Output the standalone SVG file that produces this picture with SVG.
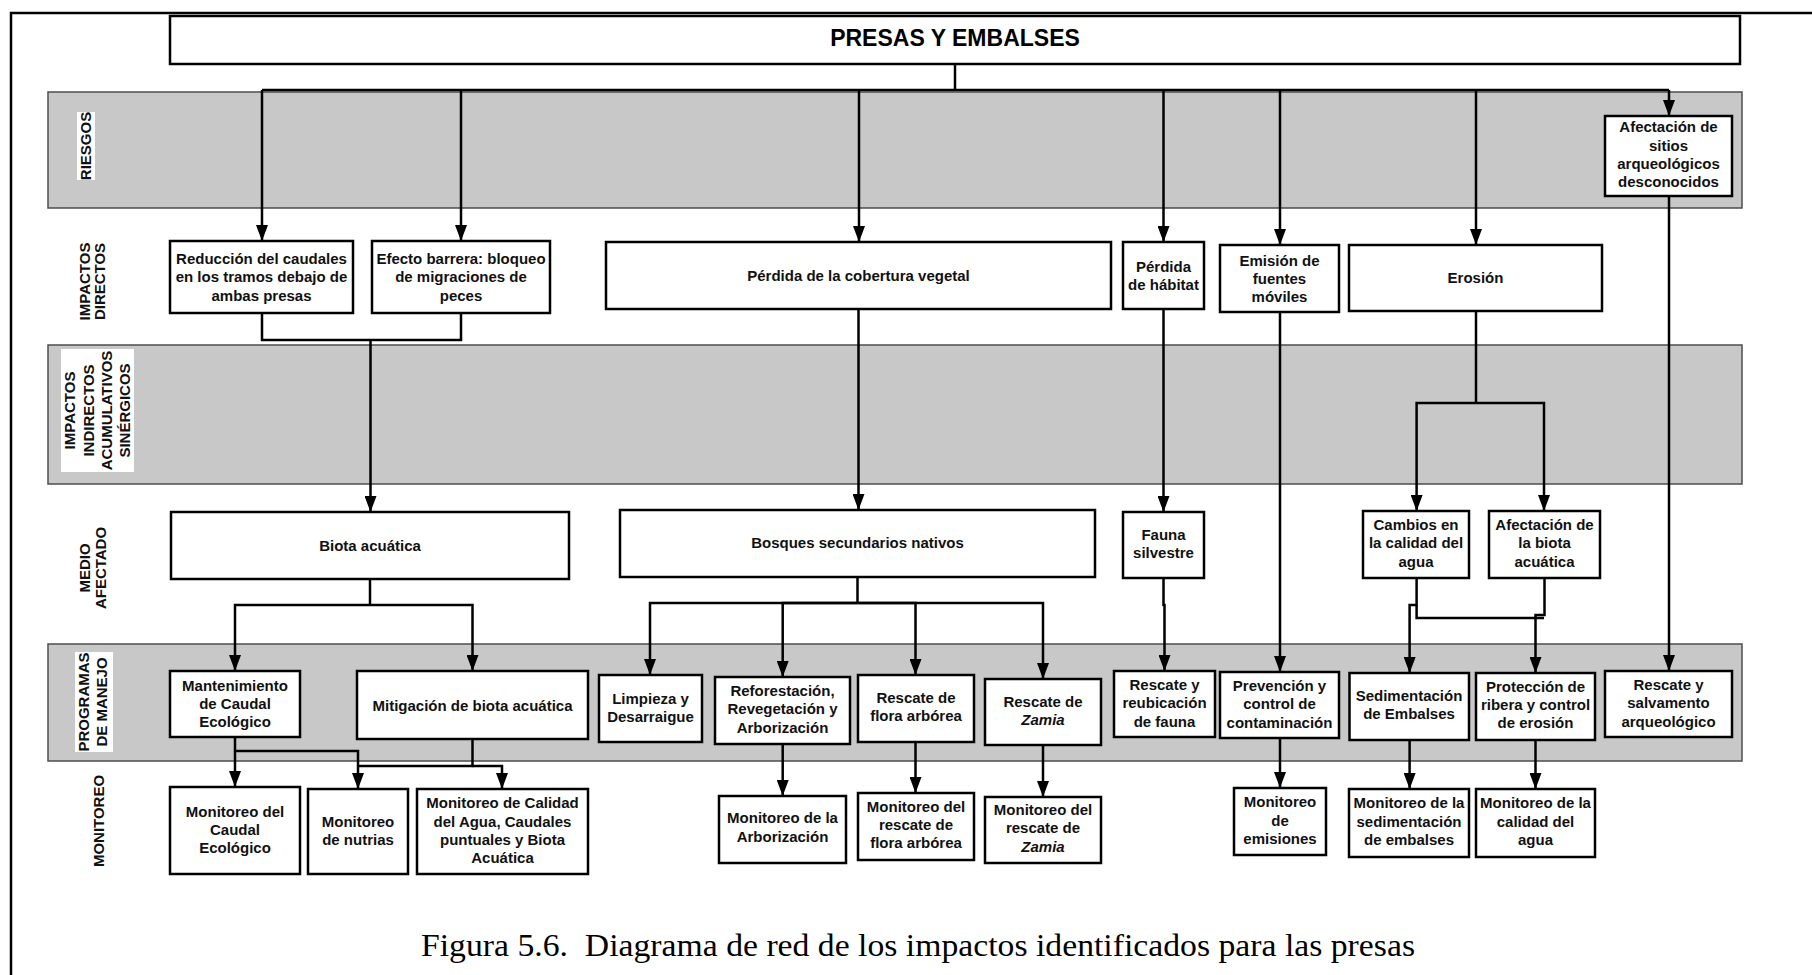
<svg xmlns="http://www.w3.org/2000/svg" width="1812" height="975" viewBox="0 0 1812 975">
<style>
.bg{fill:#fff}
.band{fill:#c8c8c8;stroke:#4d4d4d;stroke-width:1.5}
.box{fill:#fff;stroke:#000;stroke-width:2.5}
.lblbg{fill:#fff}
.t{font-family:"Liberation Sans",Arial,sans-serif;font-weight:bold;font-size:15px;fill:#111;text-anchor:middle}
.title{font-family:"Liberation Sans",Arial,sans-serif;font-weight:bold;font-size:23px;fill:#000;text-anchor:middle}
.cap{font-family:"Liberation Serif","Times New Roman",serif;font-size:31px;fill:#000;text-anchor:middle}
.conn{fill:none;stroke:#000;stroke-width:2.5}
.arr{marker-end:url(#ah)}
.frame{fill:none;stroke:#000;stroke-width:2.5}
</style>
<defs>
<marker id="ah" markerUnits="userSpaceOnUse" markerWidth="16" markerHeight="12" refX="16" refY="6" orient="auto">
<path d="M0,0 L16,6 L0,12 Z" fill="#000"/>
</marker>
</defs>
<rect class="bg" x="0" y="0" width="1812" height="975"/>
<path class="frame" d="M11,975 V13 H1812"/>

<g id="bands">
<rect class="band" x="48" y="92" width="1694" height="116"/>
<rect class="band" x="48" y="345" width="1694" height="139"/>
<rect class="band" x="48" y="644" width="1694" height="117"/>
</g>

<g id="lane-labels">
<rect class="lblbg" x="77" y="112" width="18" height="68"/>
<text class="t" transform="translate(0,146) rotate(-90)" x="0" y="91.4">RIESGOS</text>
<text class="t" transform="translate(0,281.5) rotate(-90)"><tspan x="0" y="89.9">IMPACTOS</tspan><tspan x="0" y="105.4">DIRECTOS</tspan></text>
<rect class="lblbg" x="61" y="349" width="73" height="123"/>
<text class="t" transform="translate(0,410.5) rotate(-90)"><tspan x="0" y="75.4">IMPACTOS</tspan><tspan x="0" y="94.4">INDIRECTOS</tspan><tspan x="0" y="112.4">ACUMULATIVOS</tspan><tspan x="0" y="130.4">SINÉRGICOS</tspan></text>
<text class="t" transform="translate(0,568) rotate(-90)"><tspan x="0" y="90.4">MEDIO</tspan><tspan x="0" y="106.4">AFECTADO</tspan></text>
<rect class="lblbg" x="75" y="652" width="38" height="100"/>
<text class="t" transform="translate(0,702) rotate(-90)"><tspan x="0" y="89.4">PROGRAMAS</tspan><tspan x="0" y="107.4">DE MANEJO</tspan></text>
<text class="t" transform="translate(0,821) rotate(-90)" x="0" y="103.9">MONITOREO</text>
</g>

<g id="connectors">
<path class="conn" d="M955,64 V90"/>
<path class="conn" d="M262,90 H1669"/>
<path class="conn arr" d="M262,90 V241"/>
<path class="conn arr" d="M461,90 V241"/>
<path class="conn arr" d="M859,90 V242"/>
<path class="conn arr" d="M1163.5,90 V242"/>
<path class="conn arr" d="M1280,90 V245"/>
<path class="conn arr" d="M1476,90 V245"/>
<path class="conn arr" d="M1669,90 V116"/>
<path class="conn" d="M262,313 V340 H461 V313"/>
<path class="conn arr" d="M370.5,340 V512"/>
<path class="conn arr" d="M858.5,309 V510"/>
<path class="conn arr" d="M1163.5,309 V512"/>
<path class="conn arr" d="M1280,312 V672"/>
<path class="conn" d="M1476,311 V403"/>
<path class="conn arr" d="M1476,403 H1416.6 V511"/>
<path class="conn arr" d="M1476,403 H1544 V511"/>
<path class="conn arr" d="M1669,196 V671"/>
<path class="conn" d="M370,579 V605"/>
<path class="conn arr" d="M370,605 H235 V671"/>
<path class="conn arr" d="M370,605 H472.5 V671"/>
<path class="conn" d="M857.5,577 V603"/>
<path class="conn arr" d="M857.5,603 H650 V675"/>
<path class="conn arr" d="M857.5,603 H782.7 V677"/>
<path class="conn arr" d="M857.5,603 H915.5 V675"/>
<path class="conn arr" d="M857.5,603 H1043 V679"/>
<path class="conn arr" d="M1163.5,578 V605 H1164.5 V671"/>
<path class="conn arr" d="M1416.6,578 V605 H1409.6 V673"/>
<path class="conn" d="M1416.6,605 V618 H1544"/>
<path class="conn arr" d="M1544.5,578 V615 H1535.5 V673"/>
<path class="conn arr" d="M235,737 V787"/>
<path class="conn arr" d="M235,751 H358 V789"/>
<path class="conn" d="M472.5,739 V766 H358"/>
<path class="conn arr" d="M472.5,766 H502 V789"/>
<path class="conn arr" d="M782.7,744 V796"/>
<path class="conn arr" d="M915.5,742 V793"/>
<path class="conn arr" d="M1043,745 V797"/>
<path class="conn arr" d="M1280,738 V788"/>
<path class="conn arr" d="M1409.6,740 V789"/>
<path class="conn arr" d="M1535.5,740 V789"/>
</g>

<g id="n-title"><rect class="box" x="170" y="16" width="1570" height="48"/><text class="title" x="955" y="46">PRESAS Y EMBALSES</text></g>

<g id="n-reduccion"><rect class="box" x="170" y="241" width="183" height="72"/><text class="t"><tspan x="261.5" y="264">Reducción del caudales</tspan><tspan x="261.5" y="282.3">en los tramos debajo de</tspan><tspan x="261.5" y="300.6">ambas presas</tspan></text></g>
<g id="n-efecto"><rect class="box" x="372" y="241" width="178" height="72"/><text class="t"><tspan x="461" y="264">Efecto barrera: bloqueo</tspan><tspan x="461" y="282.3">de migraciones de</tspan><tspan x="461" y="300.6">peces</tspan></text></g>
<g id="n-perdida-cobertura"><rect class="box" x="606" y="242" width="505" height="67"/><text class="t" x="858.5" y="280.8">Pérdida de la cobertura vegetal</text></g>
<g id="n-perdida-habitat"><rect class="box" x="1123" y="242" width="81" height="67"/><text class="t"><tspan x="1163.5" y="271.6">Pérdida</tspan><tspan x="1163.5" y="289.9">de hábitat</tspan></text></g>
<g id="n-emision"><rect class="box" x="1220" y="245" width="119" height="67"/><text class="t"><tspan x="1279.5" y="265.5">Emisión de</tspan><tspan x="1279.5" y="283.8">fuentes</tspan><tspan x="1279.5" y="302.1">móviles</tspan></text></g>
<g id="n-erosion"><rect class="box" x="1349" y="245" width="253" height="66"/><text class="t" x="1475.5" y="283">Erosión</text></g>
<g id="n-afectacion-sitios"><rect class="box" x="1605" y="116" width="127" height="80"/><text class="t"><tspan x="1668.5" y="132.4">Afectación de</tspan><tspan x="1668.5" y="150.7">sitios</tspan><tspan x="1668.5" y="169">arqueológicos</tspan><tspan x="1668.5" y="187.3">desconocidos</tspan></text></g>

<g id="n-biota"><rect class="box" x="171" y="512" width="398" height="67"/><text class="t" x="370" y="550.5">Biota acuática</text></g>
<g id="n-bosques"><rect class="box" x="620" y="510" width="475" height="67"/><text class="t" x="857.5" y="548">Bosques secundarios nativos</text></g>
<g id="n-fauna"><rect class="box" x="1123" y="512" width="81" height="66"/><text class="t"><tspan x="1163.5" y="539.7">Fauna</tspan><tspan x="1163.5" y="558">silvestre</tspan></text></g>
<g id="n-cambios"><rect class="box" x="1363" y="511" width="106" height="67"/><text class="t"><tspan x="1416" y="530">Cambios en</tspan><tspan x="1416" y="548.3">la calidad del</tspan><tspan x="1416" y="566.6">agua</tspan></text></g>
<g id="n-afectacion-biota"><rect class="box" x="1489" y="511" width="111" height="67"/><text class="t"><tspan x="1544.5" y="530">Afectación de</tspan><tspan x="1544.5" y="548.3">la biota</tspan><tspan x="1544.5" y="566.6">acuática</tspan></text></g>

<g id="n-mantenimiento"><rect class="box" x="170" y="671" width="130" height="66"/><text class="t"><tspan x="235" y="690.5">Mantenimiento</tspan><tspan x="235" y="708.8">de Caudal</tspan><tspan x="235" y="727.1">Ecológico</tspan></text></g>
<g id="n-mitigacion"><rect class="box" x="357" y="671" width="231" height="68"/><text class="t" x="472.5" y="710.5">Mitigación de biota acuática</text></g>
<g id="n-limpieza"><rect class="box" x="599" y="675" width="103" height="67"/><text class="t"><tspan x="650.5" y="703.7">Limpieza y</tspan><tspan x="650.5" y="722">Desarraigue</tspan></text></g>
<g id="n-reforestacion"><rect class="box" x="715" y="677" width="135" height="67"/><text class="t"><tspan x="782.5" y="696">Reforestación,</tspan><tspan x="782.5" y="714.3">Revegetación y</tspan><tspan x="782.5" y="732.6">Arborización</tspan></text></g>
<g id="n-rescate-flora"><rect class="box" x="858" y="675" width="116" height="67"/><text class="t"><tspan x="916" y="702.7">Rescate de</tspan><tspan x="916" y="721">flora arbórea</tspan></text></g>
<g id="n-rescate-zamia"><rect class="box" x="985" y="679" width="116" height="66"/><text class="t"><tspan x="1043" y="706.7">Rescate de</tspan><tspan x="1043" y="725" font-style="italic">Zamia</tspan></text></g>
<g id="n-rescate-fauna"><rect class="box" x="1114" y="671" width="101" height="66"/><text class="t"><tspan x="1164.5" y="690">Rescate y</tspan><tspan x="1164.5" y="708.3">reubicación</tspan><tspan x="1164.5" y="726.6">de fauna</tspan></text></g>
<g id="n-prevencion"><rect class="box" x="1220" y="672" width="119" height="66"/><text class="t"><tspan x="1279.5" y="691">Prevención y</tspan><tspan x="1279.5" y="709.3">control de</tspan><tspan x="1279.5" y="727.6">contaminación</tspan></text></g>
<g id="n-sedimentacion"><rect class="box" x="1349.5" y="673" width="119.5" height="67"/><text class="t"><tspan x="1409" y="700.7">Sedimentación</tspan><tspan x="1409" y="719">de Embalses</tspan></text></g>
<g id="n-proteccion"><rect class="box" x="1476" y="673" width="119" height="67"/><text class="t"><tspan x="1535.5" y="691.7">Protección de</tspan><tspan x="1535.5" y="710">ribera y control</tspan><tspan x="1535.5" y="728.3">de erosión</tspan></text></g>
<g id="n-rescate-arqueologico"><rect class="box" x="1605" y="671" width="127" height="66"/><text class="t"><tspan x="1668.5" y="690">Rescate y</tspan><tspan x="1668.5" y="708.3">salvamento</tspan><tspan x="1668.5" y="726.6">arqueológico</tspan></text></g>

<g id="n-mon-caudal"><rect class="box" x="170" y="787" width="130" height="87"/><text class="t"><tspan x="235" y="816.7">Monitoreo del</tspan><tspan x="235" y="835">Caudal</tspan><tspan x="235" y="853.3">Ecológico</tspan></text></g>
<g id="n-mon-nutrias"><rect class="box" x="308" y="789" width="100" height="85"/><text class="t"><tspan x="358" y="826.7">Monitoreo</tspan><tspan x="358" y="845">de nutrias</tspan></text></g>
<g id="n-mon-calidad"><rect class="box" x="417" y="789" width="171" height="85"/><text class="t"><tspan x="502.5" y="808.3">Monitoreo de Calidad</tspan><tspan x="502.5" y="826.6">del Agua, Caudales</tspan><tspan x="502.5" y="844.9">puntuales y Biota</tspan><tspan x="502.5" y="863.2">Acuática</tspan></text></g>
<g id="n-mon-arborizacion"><rect class="box" x="719" y="796" width="127" height="67"/><text class="t"><tspan x="782.5" y="823.3">Monitoreo de la</tspan><tspan x="782.5" y="841.6">Arborización</tspan></text></g>
<g id="n-mon-flora"><rect class="box" x="858" y="793" width="116" height="67"/><text class="t"><tspan x="916" y="811.7">Monitoreo del</tspan><tspan x="916" y="830">rescate de</tspan><tspan x="916" y="848.3">flora arbórea</tspan></text></g>
<g id="n-mon-zamia"><rect class="box" x="985" y="797" width="116" height="66"/><text class="t"><tspan x="1043" y="815">Monitoreo del</tspan><tspan x="1043" y="833.3">rescate de</tspan><tspan x="1043" y="851.6" font-style="italic">Zamia</tspan></text></g>
<g id="n-mon-emisiones"><rect class="box" x="1234" y="788" width="92" height="67"/><text class="t"><tspan x="1280" y="807.3">Monitoreo</tspan><tspan x="1280" y="825.6">de</tspan><tspan x="1280" y="843.9">emisiones</tspan></text></g>
<g id="n-mon-sedimentacion"><rect class="box" x="1349" y="789" width="120" height="68"/><text class="t"><tspan x="1409" y="808.3">Monitoreo de la</tspan><tspan x="1409" y="826.6">sedimentación</tspan><tspan x="1409" y="844.9">de embalses</tspan></text></g>
<g id="n-mon-calidad-agua"><rect class="box" x="1476" y="789" width="119" height="68"/><text class="t"><tspan x="1535.5" y="808.3">Monitoreo de la</tspan><tspan x="1535.5" y="826.6">calidad del</tspan><tspan x="1535.5" y="844.9">agua</tspan></text></g>

<text class="cap" x="918" y="956" textLength="994" lengthAdjust="spacingAndGlyphs">Figura 5.6.&#160; Diagrama de red de los impactos identificados para las presas</text>
</svg>
